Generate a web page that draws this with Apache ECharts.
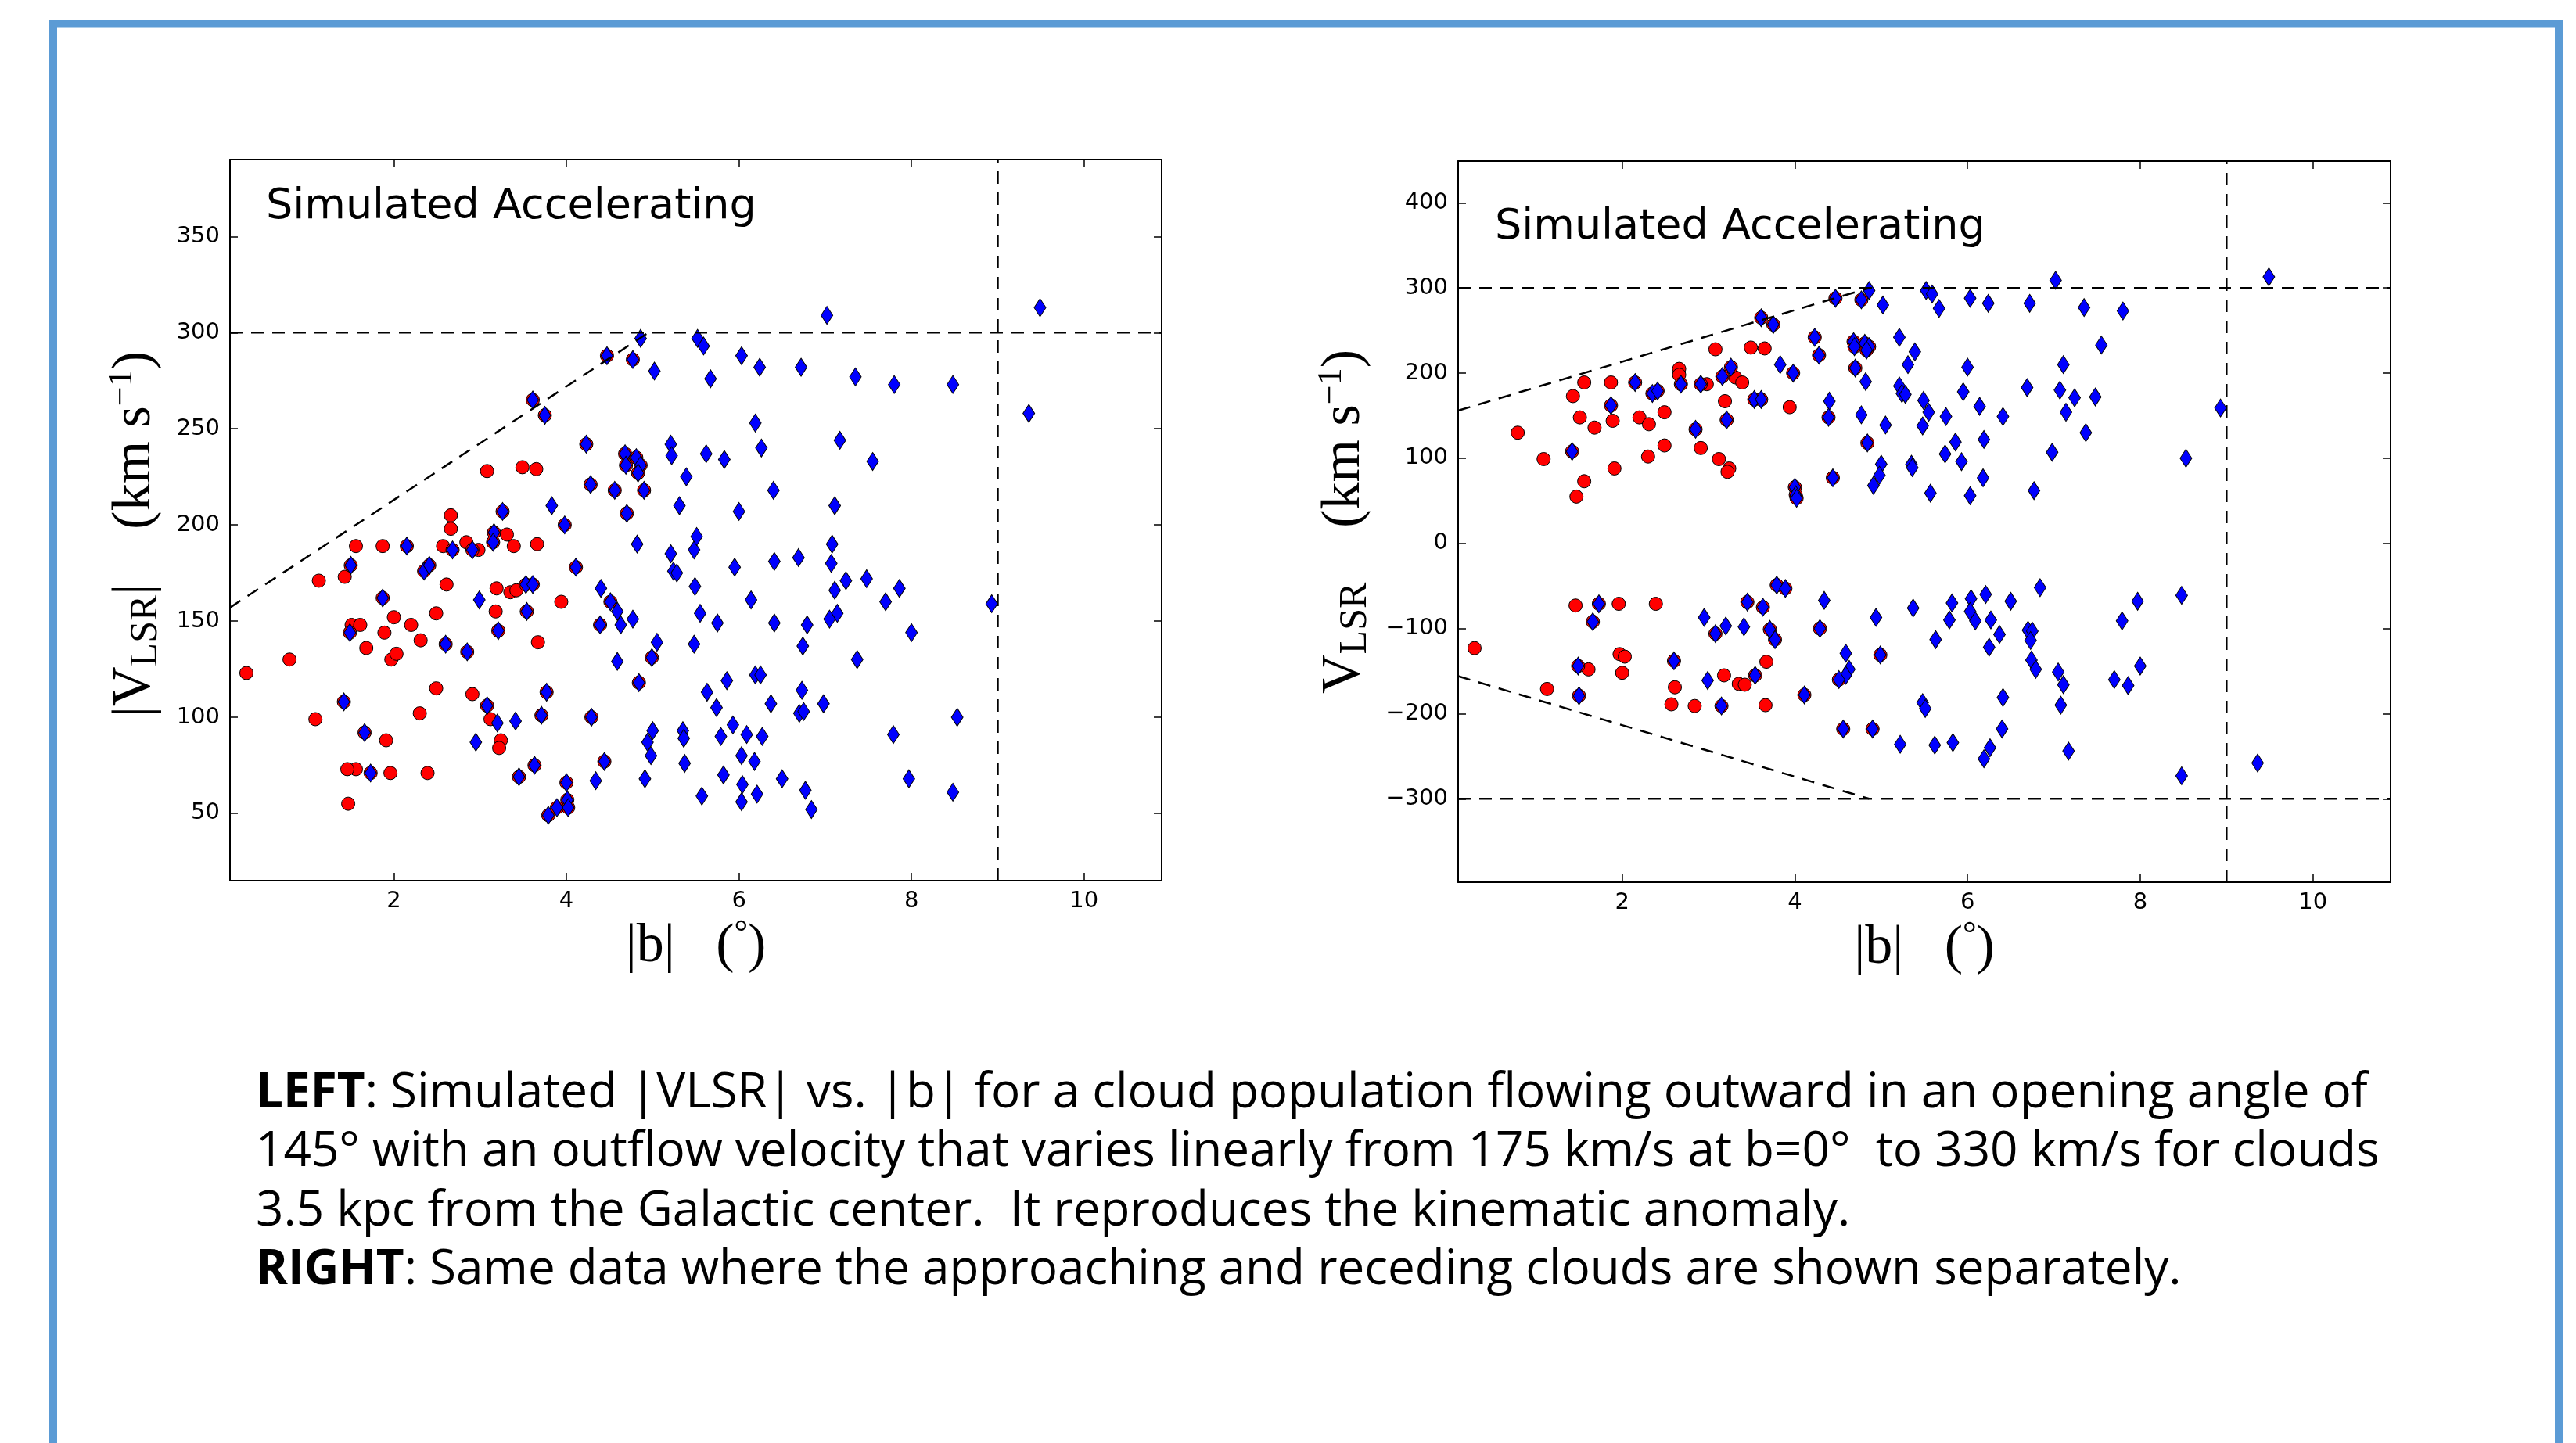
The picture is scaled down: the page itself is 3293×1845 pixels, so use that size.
<!DOCTYPE html>
<html>
<head>
<meta charset="utf-8">
<title>Simulated Accelerating</title>
<script src="https://cdn.jsdelivr.net/npm/echarts@6.0.0/dist/echarts.min.js"></script>
<style>
  html, body { margin: 0; padding: 0; background: #fff; }
  #chart { width: 3293px; height: 1845px; }
</style>
</head>
<body>
<div id="chart"></div>
<script>
// clouds as [|b| (deg), V_LSR (km/s)], signed; the left panel uses |V|
const redOnly = [
  [0.29,-123],[0.79,130],[1.09,99],[1.13,-171],[1.43,173],[1.56,189],[1.51,148],[1.68,136],
  [1.56,73],[1.47,55],[1.46,-73],[1.61,-148],[1.87,189],[1.89,144],[1.91,88],[1.96,-71],
  [1.97,-130],[2.03,-133],[2.0,-152],[2.2,148],[2.31,140],[2.3,102],[2.49,154],[2.49,115],
  [2.39,-71],[2.66,205],[2.66,198],[2.61,-169],[2.57,-189],[2.84,-191],[2.91,112],[2.98,187],
  [3.08,228],[3.31,195],[3.39,189],[3.19,167],[3.12,99],[3.24,88],[3.22,84],[3.18,-155],
  [3.35,-165],[3.42,-166],[3.49,230],[3.65,229],[3.94,160],[3.67,-139],[3.66,-190]
];
// red circle drawn under a blue diamond
const redUnderBlue = [
  [1.42,108],[1.87,162],[2.15,189],[2.35,176],[2.41,179],[2.68,187],[2.85,134],[2.91,187],
  [3.16,196],[3.26,207],[3.21,145],[3.61,265],[3.75,257],[3.53,169],[3.61,169],[3.98,200],
  [4.0,66],[4.01,57],[4.02,53],[4.23,242],[4.28,221],[4.39,148],[4.44,77],[4.47,288],
  [4.68,237],[4.69,231],[4.7,206],[4.81,235],[4.86,231],[4.83,227],[4.77,286],[4.84,118],
  [1.73,-71],[1.66,-92],[1.49,-144],[1.5,-179],[2.6,-138],[3.08,-106],[3.15,-191],[3.54,-155],
  [3.45,-69],[3.63,-75],[3.71,-101],[3.77,-113],[3.79,-49],[3.89,-53],[4.11,-178],[4.29,-100],
  [4.51,-160],[4.56,-218],[4.9,-218],[4.99,-131]
];
const blueOnly = [
  [3.83,210],[4.4,167],[4.86,297],[4.82,190],[4.77,151],[5.0,93],[4.98,80],[4.91,68],
  [5.02,280],[5.05,139],[5.21,242],[5.31,210],[5.39,225],[5.21,185],[5.24,176],[5.28,175],
  [5.35,93],[5.36,89],[5.49,168],[5.55,154],[5.48,138],[5.57,59],[5.52,297],[5.59,293],
  [5.67,276],[6.03,288],[6.24,282],[6.72,282],[7.02,309],[7.35,277],[7.8,273],[7.55,233],
  [9.49,313],[6.0,207],[7.11,210],[5.95,178],[6.14,161],[6.41,149],[6.69,183],[7.07,180],
  [7.24,171],[7.14,154],[7.48,172],[7.37,130],[8.93,159],[5.75,149],[5.86,119],[5.74,105],
  [5.93,96],[6.19,122],[6.18,77],[6.03,56],[6.98,107],[6.77,62],[8.53,100],
  [2.95,-87],[2.99,-161],[3.2,-97],[3.41,-98],[4.34,-67],[4.59,-129],[4.63,-148],[4.59,-155],
  [4.94,-87],[5.22,-236],[5.37,-76],[5.48,-187],[5.51,-194],[5.62,-237],[5.63,-113],
  [5.82,-70],[5.79,-90],[6.04,-65],[6.03,-80],[6.09,-91],[6.21,-60],[6.27,-90],[6.37,-107],
  [6.25,-122],[6.5,-68],[6.84,-52],[6.7,-102],[6.75,-103],[6.73,-114],[6.74,-137],[6.79,-148],
  [7.05,-151],[7.11,-166],[7.08,-190],[7.17,-244],[6.41,-181],[6.4,-218],[5.83,-234],[6.19,-253],
  [6.26,-240],[7.79,-91],[7.97,-68],[7.7,-160],[7.86,-167],[8.0,-144],[8.48,-61],[8.48,-273],
  [9.36,-258]
];

// guide lines
const vLimit = 300;
const bLimit = 9;
const leftEnvelope = [[0.1,157],[4.95,300]];
const rightUpperEnvelope = [[0.1,156],[4.86,300]];
const rightLowerEnvelope = [[0.1,-156],[4.86,-300]];

// axes
const bRange = [0.1, 10.9];
const leftVRange = [15, 390];
const rightVRange = [-398, 449];
const bTicks = [2, 4, 6, 8, 10];
const leftVTicks = [50, 100, 150, 200, 250, 300, 350];
const rightVTicks = [-300, -200, -100, 0, 100, 200, 300, 400];

const panelTitle = 'Simulated Accelerating';
const caption = [
  ['LEFT', ': Simulated |VLSR| vs. |b| for a cloud population flowing outward in an opening angle of'],
  ['', '145\u00b0 with an outflow velocity that varies linearly from 175 km/s at b=0\u00b0  to 330 km/s for clouds'],
  ['', '3.5 kpc from the Galactic center.  It reproduces the kinematic anomaly.'],
  ['RIGHT', ': Same data where the approaching and receding clouds are shown separately.']
];

const absV = p => [p[0], Math.abs(p[1])];
const serif = 'Liberation Serif';
const sans = 'DejaVu Sans';
const capFont = 'Open Sans';

const mathRich = {
  n: { fontFamily: serif, fontSize: 70, lineHeight: 78, verticalAlign: 'middle', color: '#000' },
  s: { fontFamily: serif, fontSize: 50, lineHeight: 40, verticalAlign: 'bottom', color: '#000' },
  p: { fontFamily: serif, fontSize: 44, lineHeight: 30, verticalAlign: 'top', color: '#000' }
};

function xAxes(grid) {
  const base = {
    gridIndex: grid, type: 'value', min: bRange[0], max: bRange[1],
    splitLine: { show: false },
    axisLine: { show: true, onZero: false, lineStyle: { color: '#000', width: 2 } },
    axisTick: { show: true, inside: true, length: 10, customValues: bTicks, lineStyle: { color: '#000', width: 1.5 } }
  };
  return [
    Object.assign({}, base, {
      position: 'bottom',
      axisLabel: { customValues: bTicks, margin: 12, color: '#000', fontFamily: sans, fontSize: 29 },
      name: '{n||b|   (}{p|\u00b0}{n|)}', nameLocation: 'middle', nameGap: 46,
      nameTextStyle: { fontFamily: serif, fontSize: 70, color: '#000', rich: mathRich }
    }),
    Object.assign({}, base, { position: 'top', axisLabel: { show: false } })
  ];
}

function yAxes(grid, range, ticks, name, gap, pad) {
  const base = {
    gridIndex: grid, type: 'value', min: range[0], max: range[1],
    splitLine: { show: false },
    axisLine: { show: true, onZero: false, lineStyle: { color: '#000', width: 2 } },
    axisTick: { show: true, inside: true, length: 10, customValues: ticks, lineStyle: { color: '#000', width: 1.5 } }
  };
  return [
    Object.assign({}, base, {
      position: 'left',
      axisLabel: {
        customValues: ticks, margin: 13, color: '#000', fontFamily: sans, fontSize: 29,
        formatter: v => String(v).replace('-', '\u2212')
      },
      name: name, nameLocation: 'middle', nameRotate: 90, nameGap: gap,
      nameTextStyle: { fontFamily: serif, fontSize: 70, color: '#000', padding: [0, pad, 0, 0], rich: mathRich }
    }),
    Object.assign({}, base, { position: 'right', axisLabel: { show: false } })
  ];
}

function guide(xi, yi, data) {
  return {
    type: 'line', xAxisIndex: xi, yAxisIndex: yi, data: data,
    showSymbol: false, silent: true,
    lineStyle: { color: '#000', width: 2.5, type: [16, 11] }
  };
}

function dots(xi, yi, data, red) {
  return {
    type: 'scatter', xAxisIndex: xi, yAxisIndex: yi, data: data,
    symbol: red ? 'circle' : 'diamond',
    symbolSize: red ? 17 : [15, 23],
    itemStyle: { color: red ? '#ff0000' : '#0000ff', borderColor: '#000', borderWidth: 1, opacity: 1 }
  };
}

const leftRed = redOnly.concat(redUnderBlue).map(absV);
const leftBlue = blueOnly.concat(redUnderBlue).map(absV);
const rightRed = redOnly.concat(redUnderBlue);
const rightBlue = blueOnly.concat(redUnderBlue);

const hLine = v => [[bRange[0], v], [bRange[1], v]];
const vLine = (b, r) => [[b, r[0]], [b, r[1]]];

const chart = echarts.init(document.getElementById('chart'));
chart.setOption({
  animation: false,
  backgroundColor: '#fff',
  grid: [
    { left: 294, top: 204, width: 1191, height: 922 },
    { left: 1864, top: 206, width: 1192, height: 922 }
  ],
  xAxis: xAxes(0).concat(xAxes(1)),
  yAxis: yAxes(0, leftVRange, leftVTicks, '{n||V}{s|LSR}{n||    (km s}{p|\u22121}{n|)}', 82, 36)
    .concat(yAxes(1, rightVRange, rightVTicks, '{n|V}{s|LSR}{n|    (km s}{p|\u22121}{n|)}', 106, 0)),
  series: [
    guide(0, 0, hLine(vLimit)),
    guide(0, 0, vLine(bLimit, leftVRange)),
    guide(0, 0, leftEnvelope),
    dots(0, 0, leftRed, true),
    dots(0, 0, leftBlue, false),
    guide(2, 2, hLine(vLimit)),
    guide(2, 2, hLine(-vLimit)),
    guide(2, 2, vLine(bLimit, rightVRange)),
    guide(2, 2, rightUpperEnvelope),
    guide(2, 2, rightLowerEnvelope),
    dots(2, 2, rightRed, true),
    dots(2, 2, rightBlue, false)
  ],
  graphic: [
    {
      type: 'rect', silent: true,
      shape: { x: 68, y: 30.5, width: 3203, height: 1900 },
      style: { fill: 'none', stroke: '#5b9bd5', lineWidth: 10 }
    },
    {
      type: 'text', x: 340, y: 265, silent: true,
      style: { text: panelTitle, fontFamily: sans, fontSize: 54, fill: '#000', textVerticalAlign: 'middle' }
    },
    {
      type: 'text', x: 1911, y: 291, silent: true,
      style: { text: panelTitle, fontFamily: sans, fontSize: 54, fill: '#000', textVerticalAlign: 'middle' }
    }
  ].concat(caption.map((line, i) => ({
    type: 'text', x: 327, y: [1398, 1473, 1549, 1624][i], silent: true,
    style: {
      text: (line[0] ? '{b|' + line[0] + '}' : '') + '{n|' + line[1] + '}',
      fontFamily: capFont, fontSize: 62, fill: '#000', textVerticalAlign: 'middle',
      rich: {
        b: { fontFamily: capFont, fontSize: 62, fontWeight: 'bold', fill: '#000' },
        n: { fontFamily: capFont, fontSize: 62, fill: '#000' }
      }
    }
  })))
});
</script>
</body>
</html>
